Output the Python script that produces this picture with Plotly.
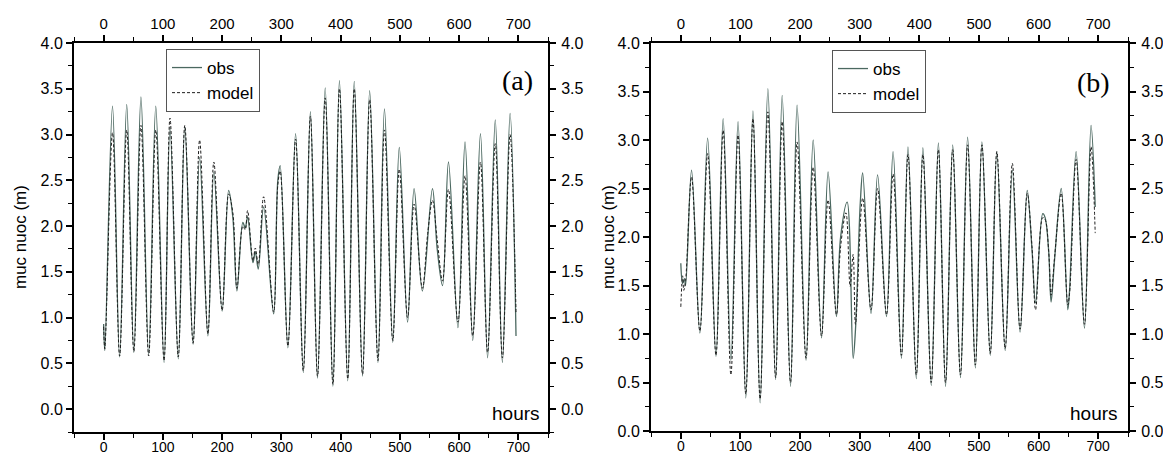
import plotly.graph_objects as go

# ---------------- data ----------------
# Panel (a): observed water level extrema (hours, metres)
t_obs_a = [0, 2, 15, 27, 39, 51, 63, 76, 88, 102, 112, 126, 137, 151, 162, 176, 186, 200,
           211, 218, 225, 235, 239, 243, 252, 256, 261, 270, 287, 294, 298, 311, 324, 337,
           349, 361, 374, 387, 398, 412, 423, 437, 449, 463, 474, 488, 499, 513, 524, 538,
           555, 563, 572, 582, 598, 610, 623, 636, 648, 661, 673, 686, 696]
h_obs_a = [0.93, 0.64, 3.31, 0.57, 3.33, 0.62, 3.41, 0.60, 3.31, 0.51, 3.08, 0.55, 3.09, 0.71,
           2.75, 0.80, 2.59, 1.07, 2.39, 2.10, 1.29, 2.04, 1.98, 2.10, 1.60, 1.72, 1.53, 2.21,
           1.04, 2.50, 2.66, 0.67, 3.01, 0.40, 3.25, 0.34, 3.51, 0.25, 3.59, 0.31, 3.58, 0.36,
           3.48, 0.51, 3.28, 0.73, 2.86, 0.95, 2.41, 1.29, 2.41, 1.75, 1.35, 2.70, 0.89, 2.92,
           0.75, 3.01, 0.56, 3.16, 0.51, 3.23, 0.80]

t_mod_a = [0, 2, 15, 27, 39, 51, 63, 76, 88, 102, 112, 126, 137, 151, 162, 176, 186, 200,
           211, 218, 225, 235, 239, 243, 252, 256, 261, 270, 287, 294, 298, 311, 324, 337,
           349, 361, 374, 387, 398, 412, 423, 437, 449, 463, 474, 488, 499, 513, 524, 538,
           547, 555, 563, 572, 582, 598, 610, 623, 636, 648, 661, 673, 686, 696]
h_mod_a = [0.90, 0.66, 3.02, 0.58, 3.05, 0.63, 3.10, 0.58, 3.05, 0.53, 3.18, 0.57, 3.10, 0.72,
           2.94, 0.82, 2.70, 1.08, 2.35, 2.15, 1.32, 2.00, 1.96, 2.17, 1.62, 1.76, 1.58, 2.32,
           1.06, 2.45, 2.60, 0.69, 2.95, 0.42, 3.20, 0.36, 3.40, 0.27, 3.50, 0.33, 3.50, 0.38,
           3.38, 0.53, 3.05, 0.75, 2.62, 1.00, 2.24, 1.32, 1.92, 2.28, 1.85, 1.40, 2.40, 0.95,
           2.55, 0.80, 2.70, 0.62, 2.90, 0.56, 3.00, 1.05]

# Panel (b)
t_obs_b = [0, 3, 6, 8, 18, 32, 45, 59, 71, 84, 96, 109, 121, 133, 146, 159, 170, 184, 195,
           210, 222, 236, 247, 261, 268, 279, 289, 293, 301, 305, 319, 330, 345, 356, 370,
           381, 395, 406, 420, 432, 444, 456, 469, 481, 494, 505, 519, 530, 544, 556, 569,
           581, 589, 595, 607, 611, 617, 621, 627, 638, 649, 652, 663, 677, 688, 695]
h_obs_b = [1.73, 1.52, 1.57, 1.50, 2.69, 1.01, 3.02, 0.77, 3.22, 0.73, 3.19, 0.34, 3.30, 0.29,
           3.53, 0.53, 3.46, 0.46, 3.36, 0.73, 3.00, 0.96, 2.67, 1.18, 2.00, 2.36, 0.75, 1.05,
           2.35, 2.66, 1.21, 2.64, 1.18, 2.88, 0.75, 2.93, 0.54, 2.92, 0.47, 2.97, 0.46, 2.95,
           0.55, 3.03, 0.65, 2.98, 0.78, 2.88, 0.83, 2.69, 1.02, 2.48, 1.87, 1.32, 2.24, 2.20,
           1.85, 1.33, 1.78, 2.50, 1.25, 1.45, 2.88, 1.06, 3.15, 2.31]

t_mod_b = [0, 3, 5, 8, 18, 32, 45, 59, 71, 84, 96, 109, 121, 133, 146, 159, 170, 184, 195,
           210, 222, 236, 247, 261, 268, 277, 284, 289, 293, 305, 319, 330, 345, 356, 370,
           381, 395, 406, 420, 432, 444, 456, 469, 481, 494, 505, 519, 530, 544, 556, 569,
           581, 589, 595, 607, 611, 617, 621, 627, 638, 649, 652, 663, 677, 688, 695]
h_mod_b = [1.28, 1.60, 1.45, 1.55, 2.62, 1.03, 2.86, 0.78, 3.10, 0.58, 3.05, 0.38, 3.22, 0.33,
           3.29, 0.55, 3.19, 0.50, 2.98, 0.75, 2.72, 0.98, 2.38, 1.20, 1.90, 2.25, 1.49, 1.82,
           1.10, 2.40, 1.25, 2.50, 1.20, 2.65, 0.78, 2.85, 0.58, 2.85, 0.50, 2.90, 0.50, 2.90,
           0.58, 2.95, 0.68, 2.95, 0.80, 2.88, 0.85, 2.76, 1.05, 2.45, 1.90, 1.25, 2.20, 2.18,
           1.85, 1.40, 1.80, 2.45, 1.30, 1.42, 2.80, 1.10, 2.93, 2.04]

x_ticks = [0, 100, 200, 300, 400, 500, 600, 700]
y_ticks = [0.0, 0.5, 1.0, 1.5, 2.0, 2.5, 3.0, 3.5, 4.0]
x_range = [-50, 750]
y_range_a = [-0.25, 4.0]
y_range_b = [0.0, 4.0]

# ---------------- figure ----------------
W, H = 1163, 456
OBS_COLOR = "#4b6860"
MOD_COLOR = "#1e1e1e"
FONT = "Liberation Sans, Arial, sans-serif"
SERIF = "Liberation Serif, Times New Roman, serif"
OBS_LINE = dict(color=OBS_COLOR, width=1.3, shape="spline", smoothing=1.0)
MOD_LINE = dict(color=MOD_COLOR, width=1, dash="3px,2px", shape="spline", smoothing=1.0)

fig = go.Figure()
fig.add_trace(go.Scatter(x=t_obs_a, y=h_obs_a, mode="lines", name="obs", line=OBS_LINE,
                         xaxis="x", yaxis="y", legend="legend"))
fig.add_trace(go.Scatter(x=t_mod_a, y=h_mod_a, mode="lines", name="model", line=MOD_LINE,
                         xaxis="x", yaxis="y", legend="legend"))
fig.add_trace(go.Scatter(x=t_obs_b, y=h_obs_b, mode="lines", name="obs", line=OBS_LINE,
                         xaxis="x2", yaxis="y2", legend="legend2"))
fig.add_trace(go.Scatter(x=t_mod_b, y=h_mod_b, mode="lines", name="model", line=MOD_LINE,
                         xaxis="x2", yaxis="y2", legend="legend2"))

# invisible copies so the mirrored (top / right) labelled axes get drawn
for xs, ys, xa, ya in [(t_obs_a, h_obs_a, "x3", "y"), (t_obs_a, h_obs_a, "x", "y3"),
                       (t_obs_b, h_obs_b, "x4", "y2"), (t_obs_b, h_obs_b, "x2", "y4")]:
    fig.add_trace(go.Scatter(x=xs, y=ys, mode="lines", xaxis=xa, yaxis=ya,
                             line=dict(width=0, color="rgba(0,0,0,0)"), opacity=0,
                             showlegend=False, hoverinfo="skip"))


def px_x(p):
    return p / W


def px_y(p):
    return 1 - p / H


def xax(domain, anchor, side, overlaying=None):
    top = side == "top"
    d = dict(domain=domain, anchor=anchor, side=side, range=x_range, automargin=False,
             tickmode="array", tickvals=x_ticks, ticks="outside", ticklen=6, tickwidth=1.5,
             tickcolor="black", showline=True, linecolor="black", linewidth=2,
             showgrid=False, zeroline=False, ticklabelstandoff=0 if top else -5,
             tickfont=dict(family=FONT, size=15 if top else 14, color="black"),
             minor=dict(tickmode="linear", tick0=50, dtick=100, ticks="outside",
                        ticklen=4, tickwidth=1.3, tickcolor="black", showgrid=False))
    if overlaying:
        d["overlaying"] = overlaying
    return d


def yax(domain, anchor, side, rng, overlaying=None):
    d = dict(domain=domain, anchor=anchor, side=side, range=rng, automargin=False,
             tickmode="array", tickvals=y_ticks, ticktext=[f"{v:.1f}" for v in y_ticks],
             ticks="outside", ticklen=6, tickwidth=1.5,
             tickcolor="black", showline=True, linecolor="black", linewidth=2,
             showgrid=False, zeroline=False, ticklabelstandoff=2 if side == "right" else 0,
             tickfont=dict(family=FONT, size=16, color="black"),
             minor=dict(tickmode="linear", tick0=0.25, dtick=0.5, ticks="outside",
                        ticklen=4, tickwidth=1.3, tickcolor="black", showgrid=False))
    if overlaying:
        d["overlaying"] = overlaying
    return d


xa_dom = [px_x(74), px_x(548)]
xb_dom = [px_x(651), px_x(1128)]
ya_dom = [px_y(432), px_y(43)]
yb_dom = [px_y(431), px_y(43)]

legend_style = dict(xanchor="left", yanchor="top", bgcolor="white", bordercolor="#555555",
                    borderwidth=1, font=dict(family=FONT, size=17, color="black"),
                    tracegroupgap=0, itemwidth=30)

fig.update_layout(
    width=W, height=H, margin=dict(l=0, r=0, t=0, b=0, autoexpand=False),
    paper_bgcolor="white", plot_bgcolor="white",
    showlegend=True,
    xaxis=xax(xa_dom, "y", "bottom"),
    xaxis3=xax(xa_dom, "y", "top", overlaying="x"),
    yaxis=yax(ya_dom, "x", "left", y_range_a),
    yaxis3=yax(ya_dom, "x", "right", y_range_a, overlaying="y"),
    xaxis2=xax(xb_dom, "y2", "bottom"),
    xaxis4=xax(xb_dom, "y2", "top", overlaying="x2"),
    yaxis2=yax(yb_dom, "x2", "left", y_range_b),
    yaxis4=yax(yb_dom, "x2", "right", y_range_b, overlaying="y2"),
    legend=dict(x=px_x(166), y=px_y(49), **legend_style),
    legend2=dict(x=px_x(832), y=px_y(50), **legend_style),
)

annots = [
    dict(text="(a)", x=px_x(517), y=px_y(80), font=dict(family=SERIF, size=28, color="black")),
    dict(text="(b)", x=px_x(1093), y=px_y(82), font=dict(family=SERIF, size=28, color="black")),
    dict(text="hours", x=px_x(516), y=px_y(413), font=dict(family=FONT, size=19, color="black")),
    dict(text="hours", x=px_x(1094), y=px_y(413), font=dict(family=FONT, size=19, color="black")),
    dict(text="muc nuoc (m)", x=px_x(20), y=px_y(237), textangle=-90, font=dict(family=FONT, size=17, color="black")),
    dict(text="muc nuoc (m)", x=px_x(608), y=px_y(237), textangle=-90, font=dict(family=FONT, size=17, color="black")),
]
for a in annots:
    fig.add_annotation(xref="paper", yref="paper", showarrow=False,
                       xanchor="center", yanchor="middle", **a)

fig.write_html("out.html")
